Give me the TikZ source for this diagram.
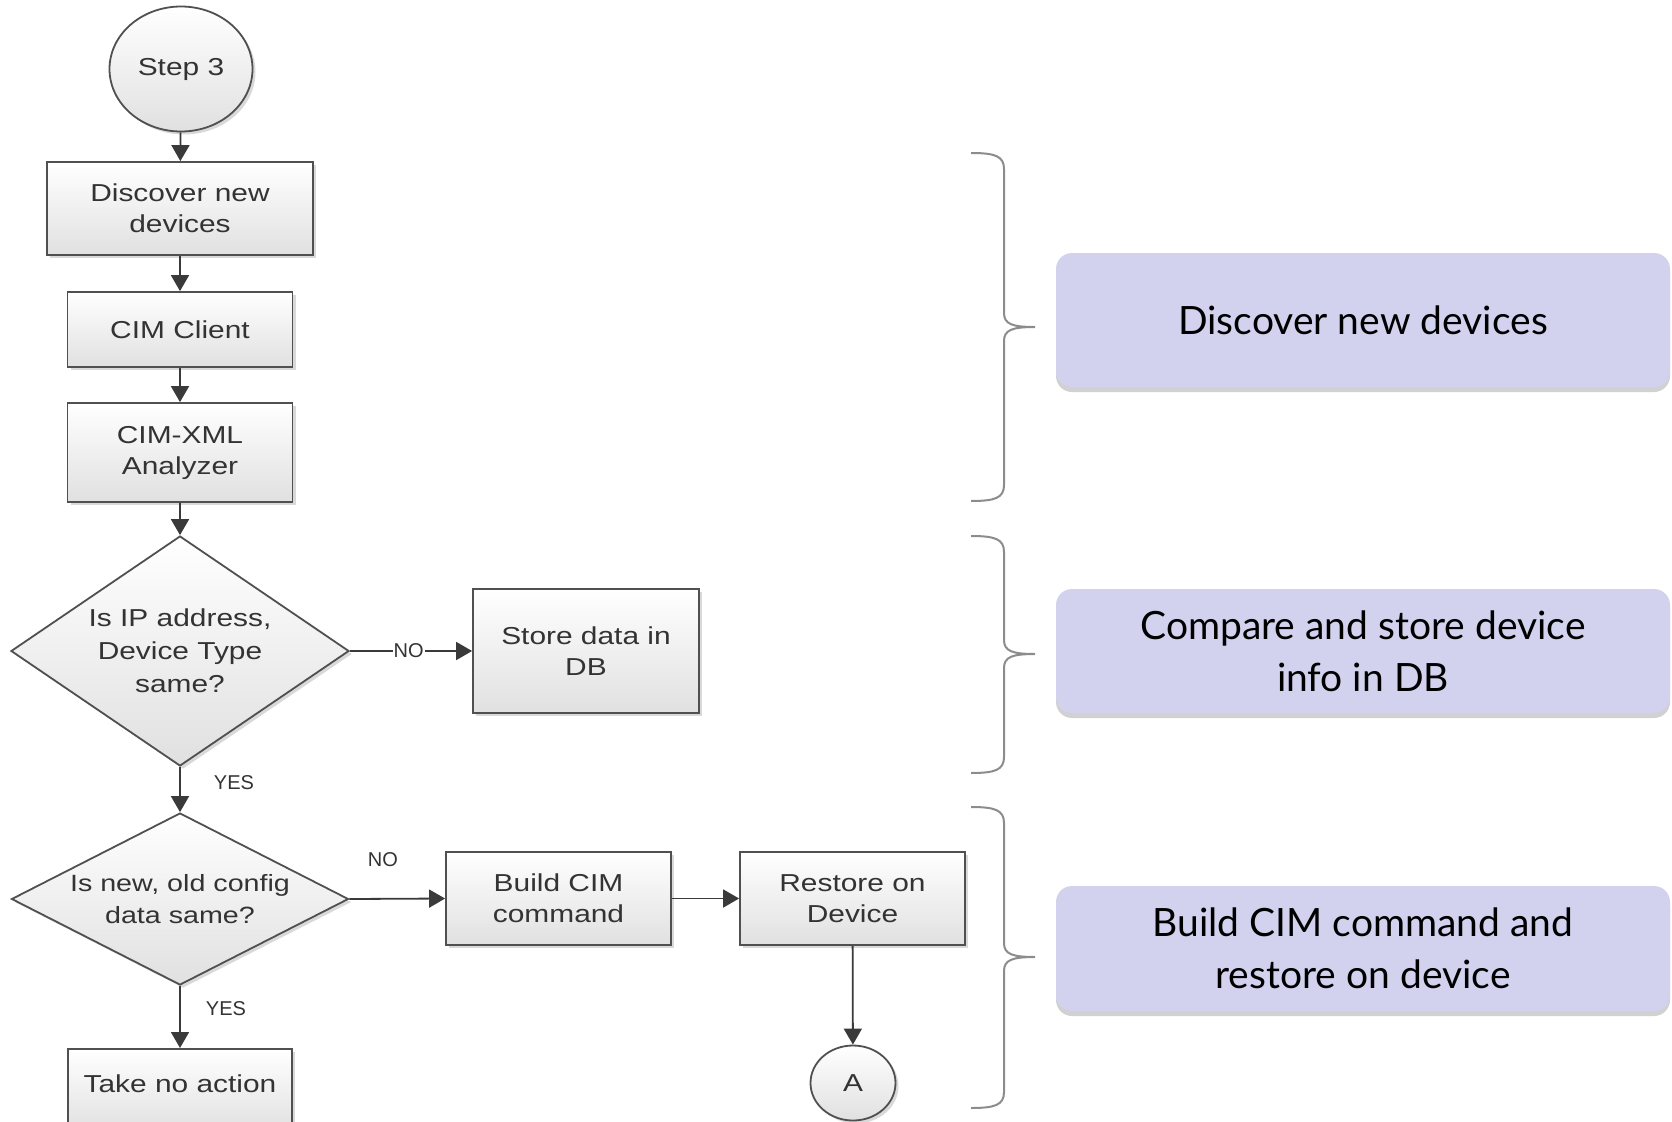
\documentclass[tikz,border=0pt]{standalone}
\usepackage{fontspec}
\setmainfont{Liberation Sans}
\newfontfamily\fcfont[FakeStretch=1.22]{Liberation Sans}
\newfontfamily\sumfont{Lato}
\usetikzlibrary{shapes.geometric,arrows.meta,shadows}
\definecolor{fcline}{HTML}{505050}
\definecolor{fctext}{HTML}{333333}
\definecolor{arr}{HTML}{3A3A3A}
\definecolor{lav}{HTML}{D2D2EF}
\definecolor{brk}{HTML}{8C8C8C}
\tikzset{
  fcshade/.style={draw=fcline, line width=1.8pt, top color=white, bottom color=black!12,
    drop shadow={shadow xshift=3pt, shadow yshift=-3pt, opacity=0.15, fill=black}},
  fcbox/.style={fcshade, text=fctext, font=\fcfont\fontsize{24.5}{31}\selectfont,
    align=center, inner sep=0pt},
  fcdiamond/.style={fcbox, shape=diamond},
  fcround/.style={fcbox, shape=ellipse},
  lbl/.style={text=fctext, font=\fontsize{20}{22}\selectfont, inner sep=1pt},
  conn/.style={draw=arr, line width=1.8pt, -{Triangle[length=16pt,width=18pt]}},
  sumbox/.style={fill=lav, rounded corners=16pt, minimum width=614pt, align=center,
    text=black, font=\sumfont\fontsize{39}{52}\selectfont, inner sep=0pt,
    drop shadow={shadow xshift=0pt, shadow yshift=-5pt, opacity=0.3, fill=black!60}},
  brace/.style={draw=brk, line width=2pt}
}
\begin{document}
\begin{tikzpicture}[x=1pt,y=-1pt]
\useasboundingbox (0,0) rectangle (1672,1121);
\clip (0,0) rectangle (1672,1121);

% flowchart nodes
\node[fcround, minimum width=143pt, minimum height=125pt] (step) at (181,69) {Step 3};
\node[fcbox, minimum width=266pt, minimum height=93pt] (disc) at (180,208.5) {Discover new\\devices};
\node[fcbox, minimum width=225pt, minimum height=75pt] (cim) at (180,329.5) {CIM Client};
\node[fcbox, minimum width=225pt, minimum height=99pt] (xml) at (180,452.5) {CIM-XML\\Analyzer};
\node[fcdiamond, aspect=1.47, minimum width=338pt, minimum height=230pt,
      font=\fcfont\fontsize{24.5}{33}\selectfont] (d1) at (180,651) {Is IP address,\\Device Type\\same?};
\node[fcbox, minimum width=226pt, minimum height=124pt] (store) at (586,651) {Store data in\\DB};
\node[fcdiamond, aspect=1.96, minimum width=337pt, minimum height=172pt,
      font=\fcfont\fontsize{23.5}{32}\selectfont] (d2) at (180,899) {Is new, old config\\data same?};
\node[fcbox, minimum width=225pt, minimum height=93pt] (build) at (558.5,898.5) {Build CIM\\command};
\node[fcbox, minimum width=225pt, minimum height=93pt] (restore) at (852.5,898.5) {Restore on\\Device};
\node[fcround, minimum width=85pt, minimum height=75pt] (a) at (853,1083) {A};
\node[fcbox, anchor=north, minimum width=224pt, text height=43.5pt, text depth=40pt] (noact) at (180,1048) {Take no action};

% connectors
\draw[conn] (step) -- (disc);
\draw[conn] (disc) -- (cim);
\draw[conn] (cim) -- (xml);
\draw[conn] (xml) -- (d1.north);
\draw[conn] (d1.east) -- node[lbl, fill=white, pos=0.48] {NO} (store.west);
\draw[conn] (d1.south) -- node[lbl, pos=0.34, xshift=54pt] {YES} (d2.north);
\draw[conn] (d2.east) -- node[lbl, pos=0.35, yshift=39pt] {NO} (build.west);
\draw[conn] (d2.south) -- node[lbl, pos=0.37, xshift=46pt] {YES} (noact.north);
\draw[conn] (build) -- (restore);
\draw[conn] (restore) -- (a);

% braces
\foreach \t/\m/\b in {153/327/501, 536/654/773, 807/957/1108}{
  \draw[brace] (971,\t) .. controls (995,\t) and (1004,\t+3) .. (1004,\t+16)
    -- (1004,\m-14) .. controls (1004,\m-3) and (1012,\m) .. (1035,\m)
    .. controls (1012,\m) and (1004,\m+3) .. (1004,\m+14)
    -- (1004,\b-16) .. controls (1004,\b-3) and (995,\b) .. (971,\b);
}

% summary boxes
\node[sumbox, minimum height=134pt] (s1) at (1363,320) {Discover new devices};
\node[sumbox, minimum height=124pt] (s2) at (1363,651) {Compare and store device\\info in DB};
\node[sumbox, minimum height=125pt] (s3) at (1363,948.5) {Build CIM command and\\restore on device};
\end{tikzpicture}
\end{document}
